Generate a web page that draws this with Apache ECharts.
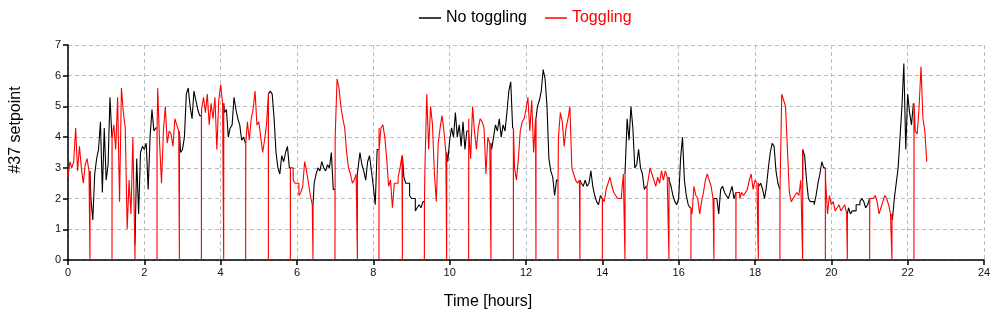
<!DOCTYPE html>
<html><head><meta charset="utf-8">
<script src="https://cdn.jsdelivr.net/npm/echarts@6/dist/echarts.min.js"></script>
<style>html,body{margin:0;padding:0;background:#fff}#c{width:1000px;height:321px}</style>
</head><body><div id="c"></div>
<script>
// ---- data (hours, setpoint) ----
const SAMPLE_STEP = 0.05; // hours between samples, first sample at t = 0
const setpoint = [
  2.7,3.2,3.0,3.2,4.3,2.9,3.7,3.0,2.5,3.1,3.3,2.9,      // 0.00-0.55
  2.0,1.3,2.8,3.3,3.6,4.5,2.2,4.3,2.6,3.1,5.3,4.0,      // 0.60-1.15
  4.4,3.6,5.3,1.9,5.6,4.8,4.3,1.0,2.6,1.5,4.0,0.5,      // 1.20-1.75
  3.3,1.5,3.5,3.7,3.6,3.8,2.3,4.0,4.9,4.2,4.3,5.6,      // 1.80-2.35
  3.8,2.5,4.2,5.0,3.8,4.2,4.1,3.7,4.6,4.4,4.2,3.5,      // 2.40-2.95
  3.6,4.0,5.4,5.6,5.0,4.6,5.5,5.2,4.9,4.7,              // 3.00-3.45
  4.9,5.3,4.8,5.4,4.4,5.1,4.6,5.3,3.6,5.2,5.7,5.1,      // 3.50-4.05
  4.8,4.9,4.0,4.3,4.4,5.3,4.9,4.6,4.4,3.9,4.0,3.8,      // 4.10-4.65
  4.5,3.9,4.6,4.9,5.5,4.4,4.5,4.0,3.5,3.9,4.4,          // 4.70-5.20
  5.4,5.5,5.4,4.6,3.5,3.0,2.8,3.4,3.2,3.5,3.7,3.0,      // 5.25-5.80
  3.0,2.6,2.5,2.5,2.1,2.2,2.4,3.2,2.9,2.5,2.1,1.8,      // 5.85-6.40
  2.5,2.8,3.0,2.9,3.2,3.0,2.9,3.1,3.0,3.5,2.3,          // 6.45-6.95
  4.0,5.9,5.6,5.0,4.6,4.3,3.5,3.0,2.8,2.5,2.6,2.8,      // 7.00-7.55
  3.0,3.5,3.1,2.9,2.6,3.2,3.4,2.9,2.4,1.8,3.6,4.3,      // 7.60-8.15
  4.3,4.4,4.0,3.3,2.4,2.6,1.7,2.5,2.5,2.7,3.0,3.4,      // 8.20-8.75
  2.7,2.5,2.5,2.1,2.0,2.0,1.6,1.7,1.8,1.7,1.9,2.9,      // 8.80-9.35
  5.4,3.6,5.0,4.4,2.8,1.9,3.8,4.3,4.7,4.2,3.5,          // 9.40-9.90
  3.2,3.9,4.3,4.0,4.8,4.0,4.4,3.7,4.5,3.6,4.2,4.6,      // 9.95-10.50
  3.3,5.0,4.2,3.6,4.3,4.6,4.5,4.3,2.8,4.0,3.8,          // 10.55-11.05
  3.6,4.0,4.4,4.2,4.6,4.0,4.4,4.2,4.8,5.5,5.8,4.3,      // 11.10-11.65
  3.0,2.6,3.3,4.2,4.5,4.6,4.9,5.3,4.2,5.2,3.5,4.6,      // 11.70-12.25
  5.0,5.2,5.5,6.2,5.9,5.0,3.3,2.9,2.7,2.1,2.6,          // 12.30-12.80
  4.0,4.8,4.5,3.7,4.3,4.6,5.0,3.0,2.8,2.6,2.5,2.6,      // 12.85-13.40
  2.5,2.4,2.6,2.4,2.5,2.9,2.4,2.1,1.9,1.8,2.1,2.0,      // 13.45-14.00
  1.9,2.3,2.5,2.7,2.4,2.2,2.1,2.0,2.0,2.1,2.8,          // 14.05-14.55
  3.0,4.6,3.9,5.0,4.3,3.0,3.1,3.6,3.0,2.8,2.3,2.4,      // 14.60-15.15
  2.6,3.0,2.8,2.6,2.4,2.7,2.5,2.9,2.6,2.9,2.7,2.6,      // 15.20-15.75
  2.4,2.1,1.9,1.8,2.0,3.3,4.0,2.6,2.1,1.8,1.7,          // 15.80-16.30
  1.5,2.4,2.1,2.0,1.5,1.9,2.2,2.6,2.8,2.6,2.4,2.0,      // 16.35-16.90
  2.0,2.0,1.5,2.3,2.4,2.2,2.1,2.0,2.2,2.4,2.0,2.2,      // 16.95-17.50
  2.2,2.0,2.2,2.1,2.2,2.3,2.6,2.8,2.3,2.6,2.5,2.4,      // 17.55-18.10
  2.5,2.3,2.0,2.4,3.0,3.5,3.8,3.7,2.9,2.5,2.3,          // 18.15-18.65
  5.4,5.2,5.0,3.6,2.2,1.9,2.0,2.1,2.2,2.1,2.6,3.6,      // 18.70-19.25
  3.4,2.6,2.0,1.9,1.9,1.8,2.1,2.5,2.8,3.2,3.0,2.6,      // 19.30-19.85
  1.5,2.1,1.8,1.9,1.6,1.7,1.8,1.6,1.7,1.8,1.5,          // 19.90-20.40
  1.7,1.5,1.6,1.6,1.8,1.8,1.9,2.0,1.9,1.7,1.8,2.0,      // 20.45-21.00
  2.0,2.0,2.1,1.9,1.5,1.7,1.9,2.1,2.0,1.8,1.5,          // 21.05-21.55
  1.3,2.0,2.5,3.0,4.0,5.0,6.4,3.6,5.4,4.8,4.4,5.1,      // 21.60-22.15
  4.2,4.1,5.0,6.3,4.6,4.2,3.2                           // 22.20-22.50
];
// moments where the setpoint is dropped to 0 (hours)
const dropTimes = [0.576,1.153,1.755,2.332,2.918,3.495,4.079,4.655,5.25,5.826,6.419,6.995,
  7.582,8.148,8.761,9.337,9.921,10.498,11.082,11.669,12.261,12.837,13.413,14.0,14.593,
  15.169,15.745,16.322,16.924,17.5,18.087,18.653,19.248,19.843,20.419,21.004,21.588,22.165];
// periods with toggling (hours)
const togglingIntervals = [[0,0.576],[1.153,1.755],[2.332,2.918],[3.495,4.079],[4.655,5.25],
  [5.826,6.419],[6.995,7.582],[8.148,8.761],[9.337,9.921],[10.498,11.082],[11.669,12.261],
  [12.837,13.413],[14.0,14.593],[15.169,15.745],[16.322,16.924],[17.5,18.087],[18.653,19.248],
  [19.843,20.419],[21.004,21.588],[22.165,22.5]];
const seriesNames = ['No toggling', 'Toggling'];
const seriesColors = ['#000000', '#ff0000'];
const xTickValues = {min: 0, max: 24, interval: 2};
const yTickValues = {min: 0, max: 7, interval: 1};

// ---- build ----
const tEnd = (setpoint.length - 1) * SAMPLE_STEP;
const valueAt = t => setpoint[Math.min(setpoint.length - 1, Math.max(0, Math.floor(t / SAMPLE_STEP + 1e-6)))];
let pts = setpoint.map((v, i) => ({t: +(i * SAMPLE_STEP).toFixed(4), v, kind: 's'}));
togglingIntervals.flat().forEach(t => { if (t > 0 && t < tEnd) pts.push({t, v: valueAt(t), kind: 'e'}); });
dropTimes.forEach(t => { pts.push({t, v: 0, kind: 'd'}); pts.push({t: t + 0.003, v: valueAt(t), kind: 'd'}); });
pts = pts.map((p, i) => ({...p, i})).sort((a, b) => (a.t - b.t) || (a.i - b.i));

// sample-and-hold staircase: each value holds until the next sample time
function staircase(list) {
  const out = [];
  for (let j = 0; j < list.length; j++) {
    out.push([list[j].t, list[j].v]);
    if (j + 1 < list.length) out.push([list[j + 1].t, list[j].v]);
  }
  return out;
}

const blackIntervals = [];
for (let k = 0; k < togglingIntervals.length - 1; k++) blackIntervals.push([togglingIntervals[k][1], togglingIntervals[k + 1][0]]);

const common = {type: 'line', showSymbol: false, symbol: 'none', animation: false, silent: true, clip: true};
const LW = 1.1;
const series = [];
blackIntervals.forEach(([a, b]) => {
  series.push({...common, name: seriesNames[0], color: seriesColors[0],
    lineStyle: {color: seriesColors[0], width: LW},
    data: staircase(pts.filter(p => p.kind !== 'd' && p.t >= a - 1e-9 && p.t <= b + 1e-9))});
});
togglingIntervals.forEach(([a, b]) => {
  series.push({...common, name: seriesNames[1], color: seriesColors[1],
    lineStyle: {color: seriesColors[1], width: LW},
    data: staircase(pts.filter(p => p.t >= a - 1e-9 && p.t <= b + 0.004))});
});

const FONT = 'Liberation Sans, Arial, Helvetica, sans-serif';
const axisCommon = {
  type: 'value',
  axisLine: {show: true, onZero: false, lineStyle: {color: '#000', width: 1.5}},
  axisTick: {show: true, inside: false, length: 5, lineStyle: {color: '#000', width: 1.5}},
  axisLabel: {color: '#111', fontSize: 11, fontFamily: FONT, margin: 7},
  splitLine: {show: true, lineStyle: {color: '#bdbdbd', width: 1, type: [4, 3]}}
};

const chart = echarts.init(document.getElementById('c'), null, {renderer: 'canvas'});
chart.setOption({
  backgroundColor: '#fff',
  animation: false,
  grid: {left: 68, right: 16, top: 45, bottom: 61, containLabel: false, outerBoundsMode: 'none'},
  legend: {
    top: 10, left: 419, padding: 0, icon: 'rect', itemWidth: 22, itemHeight: 1.5, itemGap: 18,
    textStyle: {fontSize: 16, fontFamily: FONT},
    data: [
      {name: seriesNames[0], itemStyle: {color: seriesColors[0]}, textStyle: {color: seriesColors[0]}},
      {name: seriesNames[1], itemStyle: {color: seriesColors[1]}, textStyle: {color: seriesColors[1]}}
    ]
  },
  xAxis: {...axisCommon, ...xTickValues},
  yAxis: {...axisCommon, ...yTickValues},
  graphic: [
    {type: 'text', x: 16, y: 130, rotation: Math.PI / 2,
     style: {text: '#37 setpoint', font: '16px ' + FONT, fill: '#000', align: 'center', verticalAlign: 'middle'}},
    {type: 'text', x: 488, y: 302,
     style: {text: 'Time [hours]', font: '16px ' + FONT, fill: '#000', align: 'center', verticalAlign: 'middle'}}
  ],
  series
});
</script>
</body></html>
